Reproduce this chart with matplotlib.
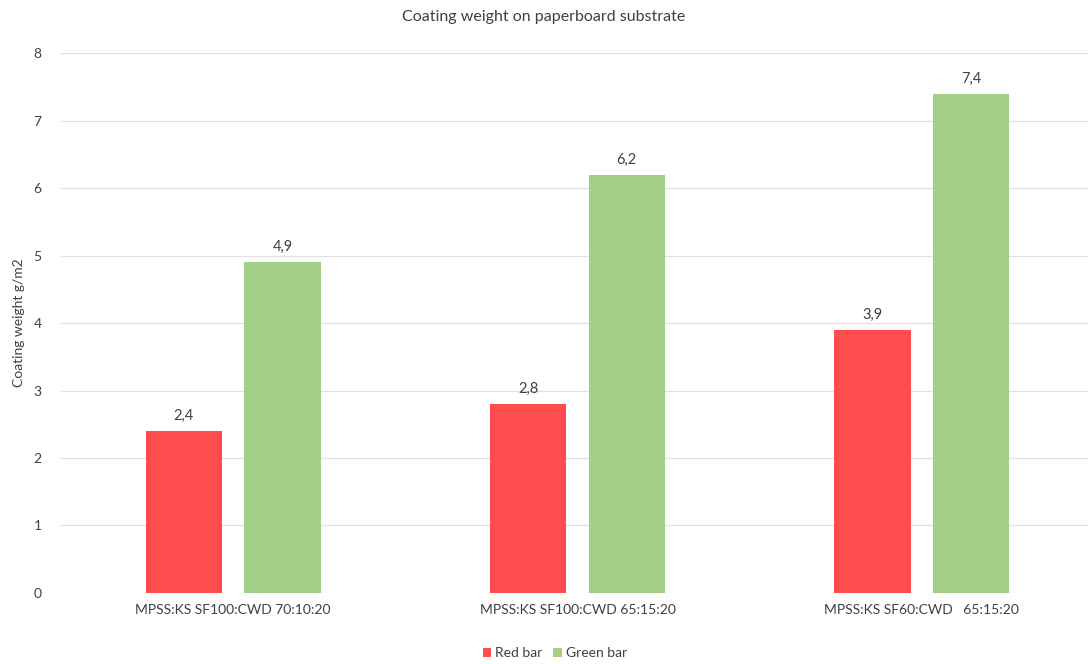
import matplotlib.pyplot as plt
import numpy as np

plt.rcParams['font.family'] = ['Lato', 'DejaVu Sans']

categories = ['MPSS:KS SF100:CWD 70:10:20', 'MPSS:KS SF100:CWD 65:15:20', 'MPSS:KS SF60:CWD   65:15:20']
red_bar = [2.4, 2.8, 3.9]
green_bar = [4.9, 6.2, 7.4]

red_color = '#FF4D4D'
green_color = '#A3CF88'
text_color = '#404040'

fig = plt.figure(figsize=(10.88, 6.64), dpi=100)
ax = fig.add_axes([61 / 1088, 0.107, 1033 / 1088, 0.813])

x = np.arange(len(categories))
w = 0.222
off = 0.143
b1 = ax.bar(x - off, red_bar, w, color=red_color, label='Red bar', zorder=3)
b2 = ax.bar(x + off, green_bar, w, color=green_color, label='Green bar', zorder=3)

for bars in (b1, b2):
    for b in bars:
        h = b.get_height()
        ax.text(b.get_x() + b.get_width() / 2, h + 0.12, '{:.1f}'.format(h).replace('.', ','),
                ha='center', va='bottom', fontsize=10.5, color=text_color)

ax.set_xlim(-0.5, 2.5)
ax.set_ylim(0, 8)
ax.set_yticks(range(0, 9))
ax.set_xticks(x)
ax.set_xticklabels(categories)
ax.tick_params(axis='both', length=0, labelsize=10, labelcolor=text_color)
ax.tick_params(axis='x', pad=8)
ax.tick_params(axis='y', pad=14)
ax.grid(axis='y', color='#E0E0E0', linewidth=0.9, zorder=0)
for s in ax.spines.values():
    s.set_visible(False)

ax.set_ylabel('Coating weight g/m2', fontsize=10, color=text_color)
ax.yaxis.set_label_coords(-0.035, 0.5)
fig.suptitle('Coating weight on paperboard substrate', y=0.985, fontsize=11.5, color=text_color)

fig.legend(loc='lower center', bbox_to_anchor=(0.51, -0.012), ncol=2, frameon=False,
           fontsize=10, handlelength=0.6, handleheight=0.6, handletextpad=0.3,
           columnspacing=0.8, labelcolor=text_color)

fig.savefig('out.png', dpi=100)
